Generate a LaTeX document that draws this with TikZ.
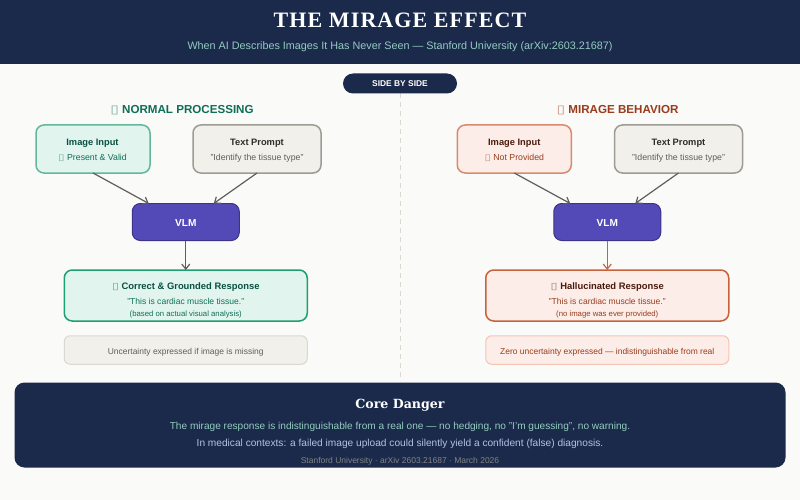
\documentclass[tikz,border=0pt]{standalone}
\usepackage{fontspec}
\setmainfont{Liberation Sans}
\newfontfamily\seriffont{DejaVu Serif}
\newfontfamily\titlefont[LetterSpace=5]{Liberation Serif}
\newfontfamily\symbolfont[FakeStretch=1.35]{DejaVu Sans}
\usetikzlibrary{arrows.meta}
\definecolor{navy}{HTML}{1B2A4A}
\definecolor{paper}{HTML}{FAFAF8}
\definecolor{tealfill}{HTML}{E1F5EE}
\definecolor{tealline}{HTML}{1D9E75}
\definecolor{tealsoft}{HTML}{62B79C}
\definecolor{tealmid}{HTML}{0F6E56}
\definecolor{tealdark}{HTML}{085041}
\definecolor{coralfill}{HTML}{FCEDE8}
\definecolor{coralline}{HTML}{C8623C}
\definecolor{coralsoft}{HTML}{D98A6E}
\definecolor{coralmid}{HTML}{993C1D}
\definecolor{coraldark}{HTML}{4A1B0C}
\definecolor{coralnote}{HTML}{F5C4B3}
\definecolor{greyfill}{HTML}{F1F0EA}
\definecolor{greyline}{HTML}{9C9B94}
\definecolor{greynote}{HTML}{DAD8CF}
\definecolor{greytext}{HTML}{5F5E5A}
\definecolor{greydark}{HTML}{2C2C2A}
\definecolor{vlmfill}{HTML}{534AB7}
\definecolor{vlmline}{HTML}{3C3489}
\definecolor{mint}{HTML}{93CCC0}
\definecolor{lavender}{HTML}{B4C0E4}
\newcommand{\tofu}{{\symbolfont\color{.!55!white}\char"25AF}}
\tikzset{
  box/.style={draw,rounded corners=8pt,line width=1.5pt,inner sep=0pt,outer sep=0pt},
  lbl/.style={anchor=base,inner sep=0pt,outer sep=0pt},
  link/.style={draw=greytext,line width=1.2pt,-{Straight Barb[length=5pt,width=8pt]}},
}
\begin{document}
\begin{tikzpicture}[x=1pt,y=-1pt]
\useasboundingbox (0,0) rectangle (800,500);
\fill[paper] (0,0) rectangle (800,500);
\fill[navy] (0,0) rectangle (800,64);
\draw[dashed,draw=greynote,line width=1pt,dash pattern=on 5pt off 4pt] (400,93) -- (400,381);
% header
\node[lbl,text=white,font=\titlefont\bfseries\fontsize{22}{26}\selectfont] (title) at (400,28) {THE MIRAGE EFFECT};
\node[lbl,text=mint,font=\fontsize{10.8}{13}\selectfont] (subtitle) at (400,49.5) {When AI Describes Images It Has Never Seen — Stanford University (arXiv:2603.21687)};
\node[fill=navy,rounded corners=10pt,minimum width=114pt,minimum height=20pt,inner sep=0pt] (pill) at (400,83.5) {};
\node[lbl,text=white,font=\bfseries\fontsize{8.4}{10}\selectfont] (pilltext) at (400,87) {SIDE BY SIDE};
% left side
\node[lbl,text=tealmid,font=\bfseries\fontsize{11.6}{14}\selectfont] (headL) at (182,113.5) {\tofu{} NORMAL PROCESSING};
\node[box,fill=tealfill,draw=tealsoft,minimum width=114pt,minimum height=48pt] (imgL) at (93,149) {};
\node[lbl,text=tealdark,font=\bfseries\fontsize{9.3}{11}\selectfont] (imgLa) at (92.5,146) {Image Input};
\node[lbl,text=tealmid,font=\fontsize{8.75}{10}\selectfont] (imgLb) at (92.5,160) {\tofu{} Present \& Valid};
\node[box,fill=greyfill,draw=greyline,minimum width=128pt,minimum height=48pt] (txtL) at (257,149) {};
\node[lbl,text=greydark,font=\bfseries\fontsize{9.3}{11}\selectfont] (txtLa) at (257,146) {Text Prompt};
\node[lbl,text=greytext,font=\fontsize{8.75}{10}\selectfont] (txtLb) at (257,160) {"Identify the tissue type"};
\node[box,fill=vlmfill,draw=vlmline,line width=1pt,minimum width=107pt,minimum height=37pt] (vlmL) at (185.75,222) {};
\node[lbl,text=white,font=\bfseries\fontsize{10.1}{12}\selectfont] (vlmLa) at (185.75,226) {VLM};
\node[box,fill=tealfill,draw=tealline,minimum width=243pt,minimum height=51pt] (resL) at (185.75,295.5) {};
\node[lbl,text=tealdark,font=\bfseries\fontsize{9.4}{11}\selectfont] (resLa) at (185.75,289.5) {\tofu{} Correct \& Grounded Response};
\node[lbl,text=tealmid,font=\fontsize{8.55}{10}\selectfont] (resLb) at (185.75,304) {"This is cardiac muscle tissue."};
\node[lbl,text=tealmid,font=\fontsize{7.75}{9}\selectfont] (resLc) at (185.75,316) {(based on actual visual analysis)};
\node[box,fill=greyfill,draw=greynote,line width=1pt,rounded corners=6pt,minimum width=243pt,minimum height=28.5pt] (noteL) at (185.75,350) {};
\node[lbl,text=greytext,font=\fontsize{8.47}{10}\selectfont] (noteLa) at (185.75,354) {Uncertainty expressed if image is missing};
\draw[link] (imgL.south) -- ([xshift=-37pt]vlmL.north);
\draw[link] (txtL.south) -- ([xshift=28pt]vlmL.north);
\draw[link] (vlmL.south) -- (resL.north);
% right side
\node[lbl,text=coralmid,font=\bfseries\fontsize{11.6}{14}\selectfont] (headR) at (617.5,113.5) {\tofu{} MIRAGE BEHAVIOR};
\node[box,fill=coralfill,draw=coralsoft,minimum width=114pt,minimum height=48pt] (imgR) at (514.25,149) {};
\node[lbl,text=coraldark,font=\bfseries\fontsize{9.3}{11}\selectfont] (imgRa) at (514.25,146) {Image Input};
\node[lbl,text=coralmid,font=\fontsize{8.75}{10}\selectfont] (imgRb) at (514.25,160) {\tofu{} Not Provided};
\node[box,fill=greyfill,draw=greyline,minimum width=128pt,minimum height=48pt] (txtR) at (678.5,149) {};
\node[lbl,text=greydark,font=\bfseries\fontsize{9.3}{11}\selectfont] (txtRa) at (678.5,146) {Text Prompt};
\node[lbl,text=greytext,font=\fontsize{8.75}{10}\selectfont] (txtRb) at (678.5,160) {"Identify the tissue type"};
\node[box,fill=vlmfill,draw=vlmline,line width=1pt,minimum width=107pt,minimum height=37pt] (vlmR) at (607.25,222) {};
\node[lbl,text=white,font=\bfseries\fontsize{10.1}{12}\selectfont] (vlmRa) at (607.25,226) {VLM};
\node[box,fill=coralfill,draw=coralline,minimum width=243pt,minimum height=51pt] (resR) at (607.25,295.5) {};
\node[lbl,text=coraldark,font=\bfseries\fontsize{9.4}{11}\selectfont] (resRa) at (607.25,289.5) {\tofu{} Hallucinated Response};
\node[lbl,text=coralmid,font=\fontsize{8.55}{10}\selectfont] (resRb) at (607.25,304) {"This is cardiac muscle tissue."};
\node[lbl,text=coralmid,font=\fontsize{7.75}{9}\selectfont] (resRc) at (607.25,316) {(no image was ever provided)};
\node[box,fill=coralfill,draw=coralnote,line width=1pt,rounded corners=6pt,minimum width=243pt,minimum height=28.5pt] (noteR) at (607.25,350) {};
\node[lbl,text=coralmid,font=\fontsize{8.47}{10}\selectfont] (noteRa) at (607.25,354) {Zero uncertainty expressed — indistinguishable from real};
\draw[link] (imgR.south) -- ([xshift=-37pt]vlmR.north);
\draw[link] (txtR.south) -- ([xshift=28pt]vlmR.north);
\draw[link,draw=coralline] (vlmR.south) -- (resR.north);
% bottom panel
\node[fill=navy,rounded corners=10pt,minimum width=771pt,minimum height=85pt,inner sep=0pt] (core) at (400,425) {};
\node[lbl,text=white,font=\seriffont\bfseries\fontsize{12.6}{15}\selectfont] (corea) at (400,408.5) {Core Danger};
\node[lbl,text=mint,font=\fontsize{10.1}{12}\selectfont] (coreb) at (400,429) {The mirage response is indistinguishable from a real one — no hedging, no "I'm guessing", no warning.};
\node[lbl,text=lavender,font=\fontsize{10.15}{12}\selectfont] (corec) at (400,446) {In medical contexts: a failed image upload could silently yield a confident (false) diagnosis.};
\node[lbl,text=greyline!80!navy,font=\fontsize{8.5}{10}\selectfont] (cored) at (400,463) {Stanford University · arXiv 2603.21687 · March 2026};
\end{tikzpicture}
\end{document}
